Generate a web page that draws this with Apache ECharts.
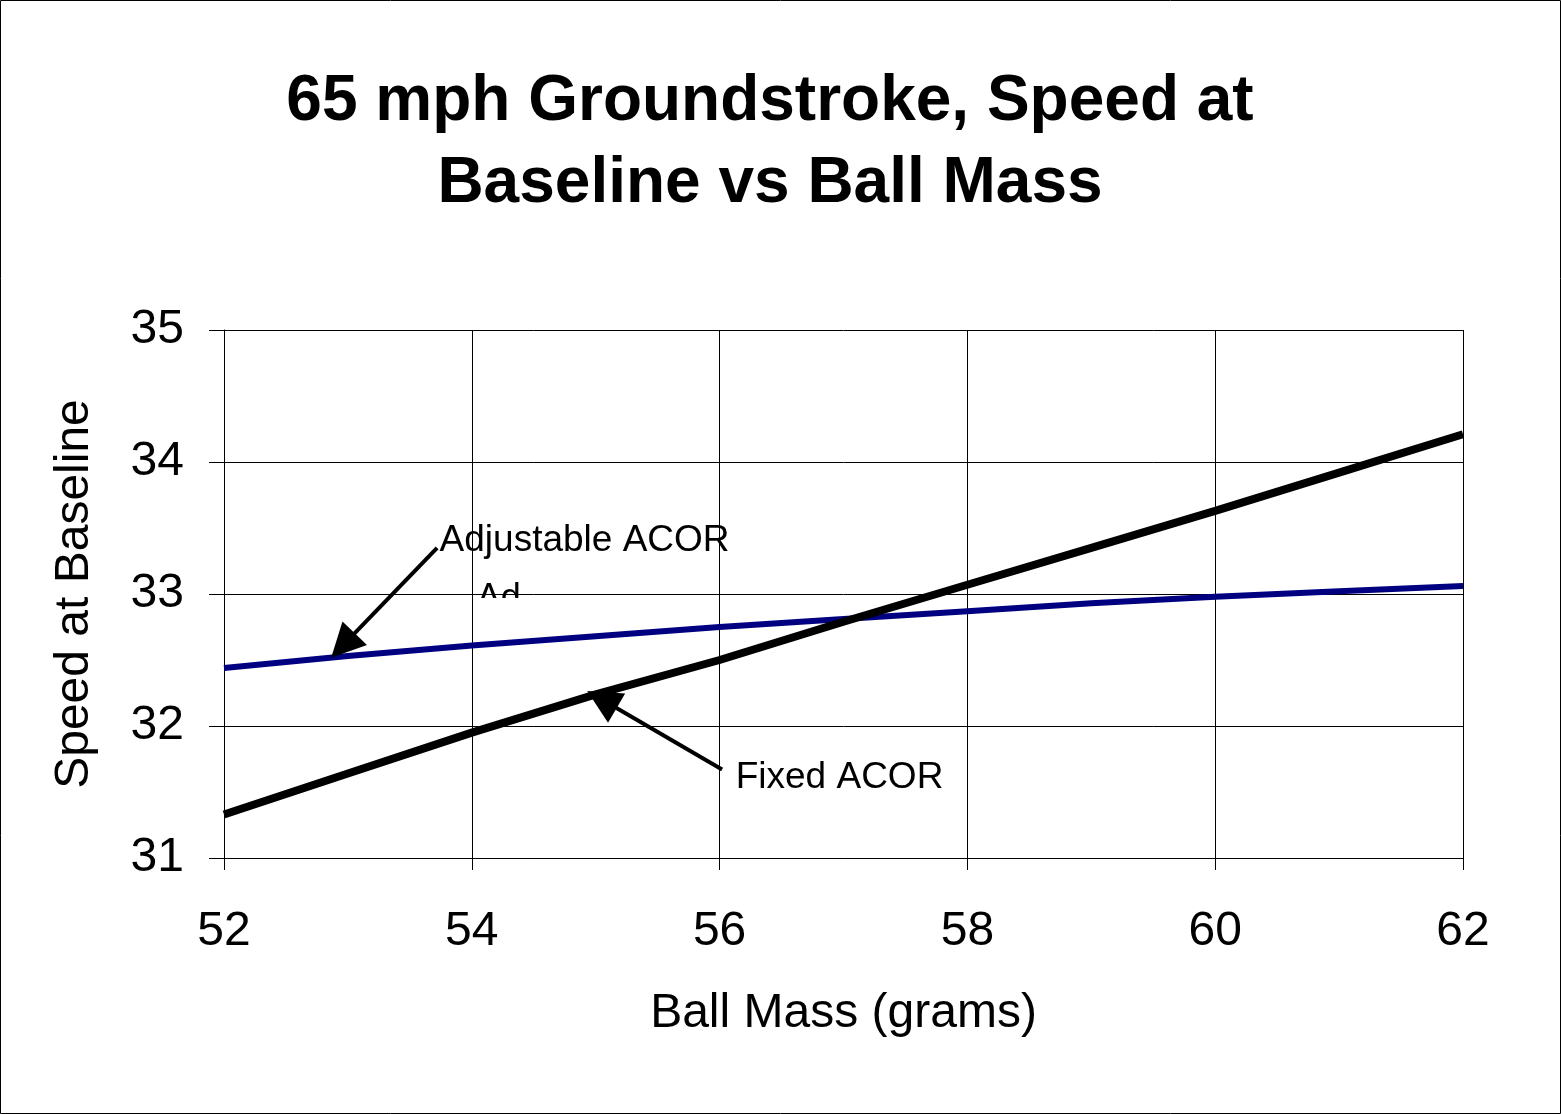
<!DOCTYPE html>
<html>
<head>
<meta charset="utf-8">
<script src="https://cdn.jsdelivr.net/npm/echarts@6/dist/echarts.min.js"></script>
<style>
  html, body { margin: 0; padding: 0; background: #fff; }
  #chart { width: 1561px; height: 1114px; }
</style>
</head>
<body>
<div id="chart"></div>
<script>
// ball mass (grams)
const massValues = [52, 53, 54, 55, 56, 57, 58, 59, 60, 61, 62];
// speed at baseline, fixed ACOR
const fixedSpeed = [31.33, 31.64, 31.95, 32.24, 32.50, 32.79, 33.07, 33.35, 33.63, 33.92, 34.21];
// speed at baseline, adjustable ACOR
const adjustableSpeed = [32.44, 32.53, 32.61, 32.68, 32.75, 32.81, 32.87, 32.93, 32.98, 33.02, 33.06];

// annotation arrows: [from, to] in data coords
const adjustableArrow = [[53.72, 33.35], [52.96, 32.61]];
const fixedArrow = [[56.02, 31.67], [55.05, 32.20]];
// annotation labels: [x, y] in data coords (left edge, middle)
const adjustableLabelPos = [53.74, 33.40];
const fixedLabelPos = [56.13, 31.61];
const strayLabelPos = [54.04, 33.10];

const FONT = '"Liberation Sans", Arial, sans-serif';

const toPairs = (xs, ys) => xs.map((x, i) => [x, ys[i]]);

const chart = echarts.init(document.getElementById('chart'));

const option = {
  backgroundColor: '#fff',
  animation: false,
  title: {
    text: '65 mph Groundstroke, Speed at\nBaseline vs Ball Mass',
    left: 765,
    textAlign: 'center',
    top: 56,
    textStyle: {
      fontFamily: FONT,
      fontWeight: 'bold',
      fontSize: 64,
      lineHeight: 82,
      color: '#000'
    }
  },
  grid: { left: 224, right: 98, top: 330, bottom: 256, containLabel: false },
  xAxis: {
    type: 'value',
    min: 52,
    max: 62,
    interval: 2,
    name: 'Ball Mass (grams)',
    nameLocation: 'middle',
    nameGap: 132,
    nameTextStyle: { fontFamily: FONT, fontSize: 48, color: '#000' },
    axisLine: { show: true, lineStyle: { color: '#000', width: 1 } },
    axisTick: { show: true, length: 12, lineStyle: { color: '#000' } },
    axisLabel: { fontFamily: FONT, fontSize: 48, color: '#000', margin: 50 },
    splitLine: { show: true, lineStyle: { color: '#000', width: 1 } }
  },
  yAxis: {
    type: 'value',
    min: 31,
    max: 35,
    interval: 1,
    name: 'Speed at Baseline',
    nameLocation: 'middle',
    nameGap: 125,
    nameTextStyle: { fontFamily: FONT, fontSize: 48, color: '#000' },
    axisLine: { show: true, lineStyle: { color: '#000', width: 1 } },
    axisTick: { show: true, length: 15, lineStyle: { color: '#000' } },
    axisLabel: { fontFamily: FONT, fontSize: 48, color: '#000', margin: 40 },
    splitLine: { show: true, lineStyle: { color: '#000', width: 1 } }
  },
  series: [
    {
      name: 'Adjustable ACOR',
      type: 'line',
      data: toPairs(massValues, adjustableSpeed),
      showSymbol: false,
      lineStyle: { color: '#000080', width: 6 },
      z: 3,
      markLine: {
        silent: true,
        symbol: ['none', 'triangle'],
        symbolSize: 34,
        label: { show: false },
        lineStyle: { color: '#000', width: 4, type: 'solid' },
        data: [
          [{ coord: adjustableArrow[0] }, { coord: adjustableArrow[1] }],
          [{ coord: fixedArrow[0] }, { coord: fixedArrow[1] }]
        ]
      }
    },
    {
      name: 'Fixed ACOR',
      type: 'line',
      data: toPairs(massValues, fixedSpeed),
      showSymbol: false,
      lineStyle: { color: '#000', width: 8 },
      z: 4
    }
  ]
};

chart.setOption(option);

// annotation texts placed from data coordinates
const px = (p) => chart.convertToPixel({ gridIndex: 0 }, p);
const a = px(adjustableLabelPos);
const f = px(fixedLabelPos);
const s = px(strayLabelPos);

chart.setOption({
  graphic: [
    {
      type: 'rect',
      shape: { x: 0.5, y: 0.5, width: 1560, height: 1113 },
      style: { fill: 'none', stroke: '#000', lineWidth: 1 },
      z: 100
    },
    {
      type: 'text',
      x: a[0], y: a[1],
      style: { text: 'Adjustable ACOR', font: '37px ' + FONT, fill: '#000', textVerticalAlign: 'middle' },
      z: 50
    },
    {
      type: 'text',
      x: f[0], y: f[1],
      style: { text: 'Fixed ACOR', font: '37px ' + FONT, fill: '#000', textVerticalAlign: 'middle' },
      z: 50
    },
    // partly hidden stray label
    {
      type: 'text',
      x: s[0], y: s[1],
      style: { text: 'Ad', font: '36px ' + FONT, fill: '#000', textVerticalAlign: 'top' },
      z: 50
    },
    {
      type: 'rect',
      shape: { x: s[0] - 2, y: px([54, 32.97])[1], width: 60, height: 24 },
      style: { fill: '#fff' },
      z: 51
    }
  ]
});
</script>
</body>
</html>
